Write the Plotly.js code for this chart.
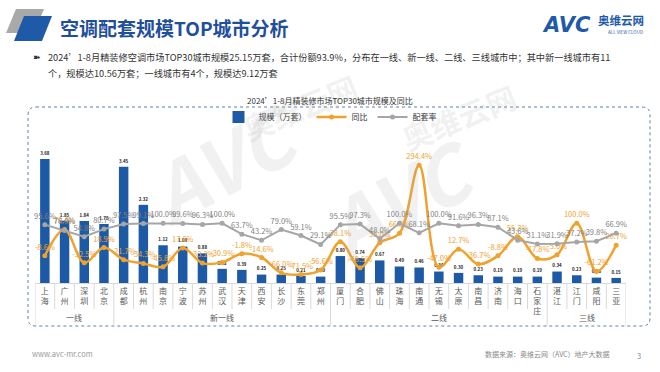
<!DOCTYPE html>
<html>
<head>
<meta charset="utf-8">
<script src="https://cdn.plot.ly/plotly-3.0.1.min.js"></script>
<style>html,body{margin:0;padding:0;background:#fff;}#chart{width:660px;height:372px;}</style>
</head>
<body>
<div id="chart"></div>
<script>
// ---- data ----
const categories = ['上海','广州','深圳','北京','成都','杭州','南京','宁波','苏州','武汉','天津','西安','长沙','东莞','郑州','厦门','合肥','佛山','珠海','南通','无锡','太原','南昌','济南','海口','石家庄','湛江','江门','咸阳','三亚'];
const tierNames = ['一线','新一线','二线','三线'];
const tierCounts = [4, 11, 11, 4];
const scaleValues = [3.68,1.85,1.84,1.75,3.45,2.32,1.12,1.08,0.88,0.42,0.39,0.25,0.25,0.21,0.19,0.80,0.74,0.67,0.49,0.46,0.34,0.30,0.23,0.19,0.19,0.19,0.34,0.23,0.16,0.15];
const yoyValues = [-8.6,79.4,-32.5,18.9,-21.7,-34.3,-45.8,17.6,-33.2,-30.9,-1.8,-14.6,-66.0,-71.5,-56.6,38.1,-48.5,35.0,66.8,294.4,-47.0,12.7,-36.7,-8.8,55.3,-17.8,-5.0,100.0,-61.2,26.7];
const rateValues = [95.6,76.0,54.8,80.7,97.5,99.1,100.0,99.6,96.3,100.0,63.7,43.2,79.0,59.1,29.1,95.5,97.3,48.0,100.0,68.1,100.0,91.6,96.3,87.1,43.6,31.1,31.9,37.2,39.8,66.9];
const seriesNames = ['规模（万套）','同比','配套率'];

// ---- helpers ----
const W = 660, H = 372;
const px = v => v / W;
const py = v => 1 - v / H;
const FONT = '"Noto Sans CJK SC", "Noto Sans", sans-serif';
const BLUE = '#1c5aa6', ORANGE = '#f0a22e', GRAY = '#a6a6a6';

const idx = categories.map((c, i) => i);
const tickText = categories.map(c => c.split('').join('<br>'));

const traces = [
  {type:'bar', name:seriesNames[0], x:idx, y:scaleValues, marker:{color:BLUE}, width:0.48,
   text:scaleValues.map(v=>v.toFixed(2)), textposition:'outside', cliponaxis:false,
   textfont:{size:8, color:'#222', family:FONT, weight:'bold'}, hoverinfo:'none'},
  {type:'scatter', mode:'lines+markers+text', name:seriesNames[1], x:idx, y:yoyValues, yaxis:'y2',
   line:{color:ORANGE, width:2.5, shape:'spline', smoothing:1}, marker:{color:ORANGE, size:5},
   text:yoyValues.map(v=>v.toFixed(1)+'%'), textposition:'top center', cliponaxis:false,
   textfont:{size:7.5, color:ORANGE, family:FONT}, hoverinfo:'none'},
  {type:'scatter', mode:'lines+markers+text', name:seriesNames[2], x:idx, y:rateValues, yaxis:'y2',
   line:{color:GRAY, width:2}, marker:{color:GRAY, size:5},
   text:rateValues.map(v=>v.toFixed(1)+'%'), textposition:'top center', cliponaxis:false,
   textfont:{size:7.5, color:'#7f7f7f', family:FONT}, hoverinfo:'none'}
];

// shapes
const shapes = [];
(function(){
  const x0=px(28), x1=px(650), y0=py(326), y1=py(107), rx=px(8), ry=8/H;
  const d = `M ${x0+rx},${y1} L ${x1-rx},${y1} Q ${x1},${y1} ${x1},${y1-ry} L ${x1},${y0+ry} Q ${x1},${y0} ${x1-rx},${y0} L ${x0+rx},${y0} Q ${x0},${y0} ${x0},${y0+ry} L ${x0},${y1-ry} Q ${x0},${y1} ${x0+rx},${y1} Z`;
  shapes.push({type:'path', xref:'paper', yref:'paper', path:d, line:{color:'#5f82aa', width:1, dash:'dot'}});
})();
shapes.push({type:'path', xref:'paper', yref:'paper',
  path:`M ${px(16)},${py(9)} L ${px(44)},${py(9)} L ${px(34)},${py(33)} L ${px(6)},${py(33)} Z`,
  fillcolor:'#a9a9a9', line:{width:0}});
shapes.push({type:'path', xref:'paper', yref:'paper',
  path:`M ${px(24)},${py(16)} L ${px(52)},${py(16)} L ${px(42)},${py(41)} L ${px(14)},${py(41)} Z`,
  fillcolor:'#1f5aa8', line:{width:0}});
let start = 0;
const groupBounds = [ -0.5 ];
tierCounts.forEach(n => { start += n; groupBounds.push(start - 0.5); });
for (let i = 0; i <= categories.length; i++) {
  const b = i - 0.5;
  const isGroup = groupBounds.includes(b);
  shapes.push({type:'line', xref:'x', yref:'paper', x0:b, x1:b, y0:py(283), y1: isGroup ? py(326) : py(309),
    line:{color:'#d9d9d9', width:1}});
}

// annotations
const annotations = [];
const wm = (x, y, t, size, ang) => annotations.push({xref:'paper', yref:'paper', x:px(x), y:py(y), showarrow:false,
  text:t, textangle:ang, font:{size:size, color:'rgba(170,170,170,0.16)', family:FONT, weight:'bold'}});
wm(125, 160, '<i>AVC</i>', 78, -28);
wm(300, 62, '奥维云网', 30, -22);
wm(525, 72, '奥维云网', 30, -22);
wm(400, 285, '<i>AVC</i>', 78, -28);

annotations.push({xref:'paper', yref:'paper', x:px(58), y:py(27), xanchor:'left', yanchor:'middle', showarrow:false,
  text:'<b>空调配套规模TOP城市分析</b>', font:{size:19, color:'#1f4f9c', family:FONT}});
annotations.push({xref:'paper', yref:'paper', x:px(540), y:py(25), xanchor:'left', yanchor:'middle', showarrow:false,
  text:'<b><i>AVC</i></b>', font:{size:21, color:'#1f5aa8', family:'"DejaVu Sans", sans-serif'}});
annotations.push({xref:'paper', yref:'paper', x:px(596), y:py(20), xanchor:'left', yanchor:'middle', showarrow:false,
  text:'<b>奥维云网</b>', font:{size:11.5, color:'#1f5aa8', family:FONT}});
annotations.push({xref:'paper', yref:'paper', x:px(606), y:py(32), xanchor:'left', yanchor:'middle', showarrow:false,
  text:'ALL VIEW CLOUD', font:{size:4.5, color:'#1f5aa8', family:FONT}});
annotations.push({xref:'paper', yref:'paper', x:px(31), y:py(57), xanchor:'left', yanchor:'middle', showarrow:false,
  text:'➽', font:{size:9, color:'#333', family:'"DejaVu Sans", sans-serif'}});
annotations.push({xref:'paper', yref:'paper', x:px(46), y:py(57), xanchor:'left', yanchor:'middle', showarrow:false,
  text:'2024’1-8月精装修空调市场TOP30城市规模25.15万套，合计份额93.9%，分布在一线、新一线、二线、三线城市中；其中新一线城市有11',
  font:{size:9.2, color:'#333', family:FONT}});
annotations.push({xref:'paper', yref:'paper', x:px(46), y:py(73), xanchor:'left', yanchor:'middle', showarrow:false,
  text:'个，规模达10.56万套；一线城市有4个，规模达9.12万套',
  font:{size:9.2, color:'#333', family:FONT}});
annotations.push({xref:'paper', yref:'paper', x:px(330), y:py(100), xanchor:'center', yanchor:'middle', showarrow:false,
  text:'2024’1-8月精装修市场TOP30城市规模及同比', font:{size:8, color:'#333', family:FONT}});
let s = 0;
tierNames.forEach((t, k) => {
  const n = tierCounts[k];
  annotations.push({xref:'x', yref:'paper', x: s + (n-1)/2, y:py(317), xanchor:'center', yanchor:'middle', showarrow:false,
    text:t, font:{size:8, color:'#595959', family:FONT}});
  s += n;
});
annotations.push({xref:'paper', yref:'paper', x:px(30), y:py(353), xanchor:'left', yanchor:'middle', showarrow:false,
  text:'www.avc-mr.com', font:{size:7.5, color:'#9a9a9a', family:FONT}});
annotations.push({xref:'paper', yref:'paper', x:px(612), y:py(354), xanchor:'right', yanchor:'middle', showarrow:false,
  text:'数据来源：奥维云网（AVC）地产大数据', font:{size:7, color:'#8a8a8a', family:FONT}});
annotations.push({xref:'paper', yref:'paper', x:px(639), y:py(355), xanchor:'center', yanchor:'middle', showarrow:false,
  text:'3', font:{size:7.5, color:'#8a8a8a', family:FONT}});

const layout = {
  width:W, height:H, margin:{l:0, r:0, t:0, b:0}, paper_bgcolor:'#fff', plot_bgcolor:'rgba(0,0,0,0)',
  font:{family:FONT, size:8, color:'#444'},
  bargap:0.5,
  xaxis:{domain:[px(35), px(626)], range:[-0.5, categories.length-0.5], tickmode:'array', tickvals:idx, ticktext:tickText,
    tickfont:{size:8, color:'#595959'}, ticks:'', showgrid:false, zeroline:false, showline:true, linecolor:'#d9d9d9', linewidth:1, fixedrange:true},
  yaxis:{domain:[py(283), py(130)], range:[0, 4.54], visible:false, showgrid:false, zeroline:false, fixedrange:true},
  yaxis2:{overlaying:'y', side:'right', range:[-100, 412.7], visible:false, showgrid:false, zeroline:false, fixedrange:true},
  showlegend:true,
  legend:{orientation:'h', x:0.5, xanchor:'center', y:py(117), yanchor:'middle', font:{size:8, color:'#333'},
    itemwidth:30, tracegroupgap:0, bgcolor:'rgba(0,0,0,0)'},
  shapes:shapes, annotations:annotations
};

Plotly.newPlot('chart', traces, layout, {staticPlot:true, displayModeBar:false});
</script>
</body>
</html>
